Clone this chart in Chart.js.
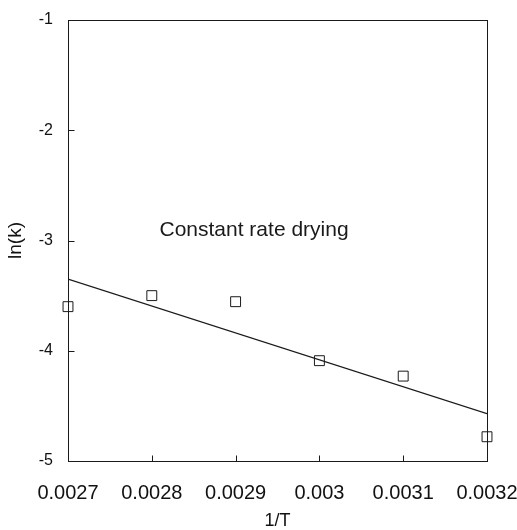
<!DOCTYPE html>
<html>
<head>
<meta charset="utf-8">
<script src="https://cdn.jsdelivr.net/npm/chart.js@4"></script>
<style>
  html, body { margin: 0; padding: 0; background: #fff; }
  #wrap { width: 517px; height: 530px; }
</style>
</head>
<body>
<div id="wrap"><canvas id="myChart"></canvas></div>
<script>
// measured points (1/T, ln k)
const invT = [0.0027, 0.0028, 0.0029, 0.0030, 0.0031, 0.0032];
const lnK = [-3.60, -3.50, -3.555, -4.09, -4.23, -4.78];

// fitted straight line, end points
const fitX = [0.0027, 0.0032];
const fitY = [-3.35, -4.57];

const xTicks = [0.0027, 0.0028, 0.0029, 0.0030, 0.0031, 0.0032];
const yTicks = [-5, -4, -3, -2, -1];

const note = { text: 'Constant rate drying', x: 0.002922, y: -2.91 };

const ink = '#1a1a1a';
const font = '"Liberation Sans", Arial, Helvetica, sans-serif';

const framePlugin = {
  id: 'frame',
  afterDatasetsDraw(chart) {
    const { ctx, chartArea: a, scales: { x, y } } = chart;
    const L = Math.round(a.left) + 0.5, R = Math.round(a.right) + 0.5;
    const T = Math.round(a.top) + 0.5, B = Math.round(a.bottom) + 0.5;
    ctx.save();
    ctx.strokeStyle = ink;
    ctx.lineWidth = 1;
    ctx.strokeRect(L, T, R - L, B - T);
    ctx.beginPath();
    // inward ticks, bottom and left only
    x.ticks.forEach(t => {
      const px = Math.round(x.getPixelForValue(t.value)) + 0.5;
      ctx.moveTo(px, B); ctx.lineTo(px, B - 6);
    });
    y.ticks.forEach(t => {
      const py = Math.round(y.getPixelForValue(t.value)) + 0.5;
      ctx.moveTo(L, py); ctx.lineTo(L + 6, py);
    });
    ctx.stroke();
    ctx.font = '21px ' + font;
    ctx.fillStyle = ink;
    ctx.textAlign = 'center';
    ctx.textBaseline = 'middle';
    ctx.fillText(note.text, x.getPixelForValue(note.x), y.getPixelForValue(note.y));
    ctx.restore();
  }
};

var ctx = document.getElementById('myChart').getContext('2d');
var myChart = new Chart(ctx, {
  type: 'scatter',
  data: {
    datasets: [{
      label: 'measured',
      data: invT.map((v, i) => ({ x: v, y: lnK[i] })),
      pointStyle: 'rect',
      pointRadius: 7,
      pointHoverRadius: 7,
      pointBorderWidth: 1,
      pointBorderColor: ink,
      pointBackgroundColor: 'rgba(255,255,255,0)',
      showLine: false,
      clip: false
    }, {
      label: 'fit',
      data: fitX.map((v, i) => ({ x: v, y: fitY[i] })),
      showLine: true,
      borderColor: ink,
      borderWidth: 1.3,
      pointRadius: 0,
      fill: false
    }]
  },
  options: {
    responsive: true,
    maintainAspectRatio: false,
    animation: false,
    layout: { padding: { top: 20, right: 30, left: 0, bottom: 0 } },
    plugins: {
      legend: { display: false },
      tooltip: { enabled: false }
    },
    scales: {
      x: {
        type: 'linear',
        min: 0.0027,
        max: 0.0032,
        afterBuildTicks: s => { s.ticks = xTicks.map(v => ({ value: v })); },
        afterFit: s => { s.height = 69; s.paddingLeft = 0; s.paddingRight = 0; },
        grid: { display: false },
        border: { display: false },
        ticks: {
          autoSkip: false,
          maxRotation: 0,
          padding: 12,
          color: '#111',
          font: { family: font, size: 20 },
          callback: v => String(+v.toFixed(4))
        },
        title: {
          display: true,
          text: '1/T',
          color: '#111',
          padding: 0,
          font: { family: font, size: 18, lineHeight: 1 }
        }
      },
      y: {
        min: -5,
        max: -1,
        afterBuildTicks: s => { s.ticks = yTicks.map(v => ({ value: v })); },
        afterFit: s => { s.width = 68; },
        grid: { display: false },
        border: { display: false },
        ticks: {
          padding: 7,
          color: '#111',
          font: { family: font, size: 16 },
          callback: v => String(v)
        },
        title: {
          display: true,
          text: 'ln(k)',
          color: '#111',
          padding: { top: 4, bottom: 0 },
          font: { family: font, size: 19 }
        }
      }
    }
  },
  plugins: [framePlugin]
});
</script>
</body>
</html>
